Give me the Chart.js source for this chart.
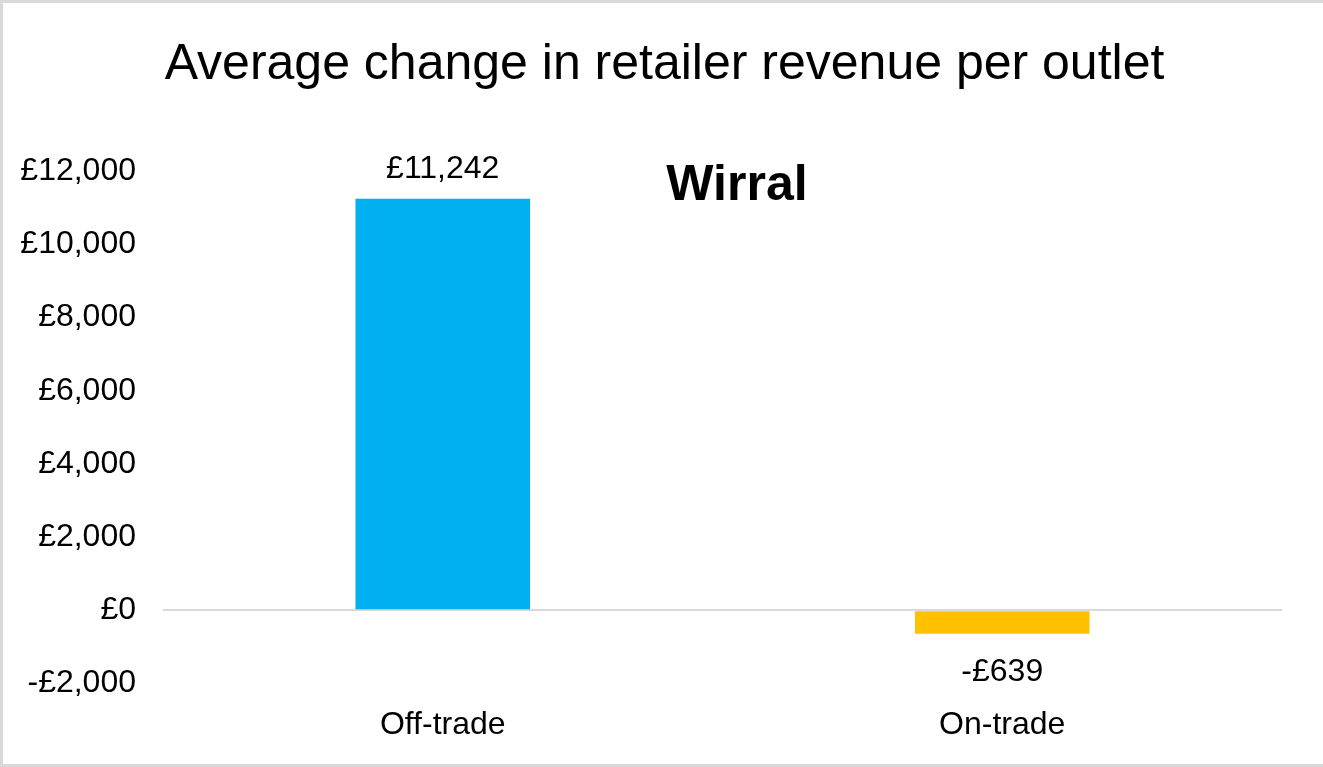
<!DOCTYPE html>
<html>
<head>
<meta charset="utf-8">
<script src="https://cdn.jsdelivr.net/npm/chart.js@4"></script>
<style>
html,body{margin:0;padding:0;background:#fff;}
#wrap{width:1323px;height:767px;position:relative;}
</style>
</head>
<body>
<div id="wrap"><canvas id="c" width="1323" height="767"></canvas></div>
<script>
const categories = ["Off-trade", "On-trade"];
const revenueChange = [11242, -639];
const barColors = ["#00b0f0", "#ffc000"];
const chartTitle = "Average change in retailer revenue per outlet";
const areaLabel = "Wirral";
const yMin = -2000, yMax = 12000, yStep = 2000;

const FONT = "'Liberation Sans', Arial, sans-serif";

function fmt(v){
  const s = Math.abs(v).toLocaleString('en-GB');
  return (v < 0 ? "-£" : "£") + s;
}

const extras = {
  id: 'extras',
  afterDatasetsDraw(chart){
    const ctx = chart.ctx;
    const meta = chart.getDatasetMeta(0);
    ctx.save();
    ctx.fillStyle = '#000';
    // title
    ctx.font = "50px " + FONT;
    ctx.textAlign = 'center';
    ctx.textBaseline = 'middle';
    ctx.fillText(chartTitle, 664.5, 65);
    // data labels
    ctx.font = "32px " + FONT;
    meta.data.forEach((bar, i) => {
      const v = revenueChange[i];
      if (v >= 0) {
        ctx.textBaseline = 'bottom';
        ctx.fillText(fmt(v), bar.x, bar.y - 14);
      } else {
        ctx.textBaseline = 'top';
        ctx.fillText(fmt(v), bar.x, bar.y + 22);
      }
    });
    ctx.font = "bold 50px " + FONT;
    ctx.textBaseline = 'middle';
    ctx.fillText(areaLabel, 737, 186);
    // outer frame
    ctx.strokeStyle = '#d9d9d9';
    ctx.lineWidth = 3;
    ctx.strokeRect(1.5, 1.5, chart.width + 2, chart.height - 3);
    ctx.restore();
  }
};

new Chart(document.getElementById('c'), {
  type: 'bar',
  data: {
    labels: categories,
    datasets: [{
      data: revenueChange,
      backgroundColor: barColors,
      borderWidth: 0,
      categoryPercentage: 1,
      barPercentage: 0.312
    }]
  },
  options: {
    responsive: false,
    animation: false,
    devicePixelRatio: 1,
    layout: { padding: { left: 10, right: 41, top: 171, bottom: 1 } },
    plugins: {
      legend: { display: false },
      tooltip: { enabled: false },
      title: { display: false }
    },
    scales: {
      x: {
        grid: { display: false, drawTicks: false },
        border: { display: false },
        ticks: { color: '#000', font: { family: FONT, size: 32 }, padding: 22 }
      },
      y: {
        min: yMin, max: yMax,
        afterFit(scale){ scale.width = 153; },
        grid: {
          drawTicks: false,
          color: ctx => (ctx.tick && ctx.tick.value === 0) ? '#d9d9d9' : 'rgba(0,0,0,0)',
          lineWidth: 2
        },
        border: { display: false },
        ticks: {
          stepSize: yStep,
          color: '#000',
          padding: 27,
          font: { family: FONT, size: 32 },
          callback: v => fmt(v)
        }
      }
    }
  },
  plugins: [extras]
});
</script>
</body>
</html>
